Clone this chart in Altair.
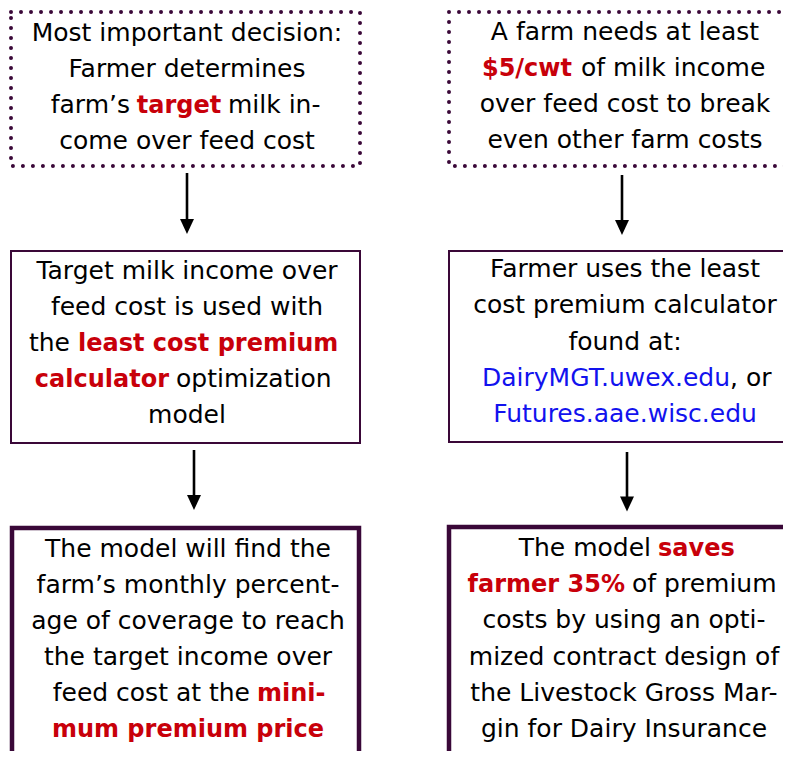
import altair as alt
import pandas as pd

# ---------------- content (text of the six boxes) ----------------
# style codes: "n" = normal black, "r" = bold red, "b" = blue link
BOX_TL = [
    [("Most important decision:", "n")],
    [("Farmer determines", "n")],
    [("farm’s", "n"), ("target", "r"), ("milk in-", "n")],
    [("come over feed cost", "n")],
]
BOX_TR = [
    [("A farm needs at least", "n")],
    [("$5/cwt", "r"), ("of milk income", "n")],
    [("over feed cost to break", "n")],
    [("even other farm costs", "n")],
]
BOX_ML = [
    [("Target milk income over", "n")],
    [("feed cost is used with", "n")],
    [("the", "n"), ("least cost premium", "r")],
    [("calculator", "r"), ("optimization", "n")],
    [("model", "n")],
]
BOX_MR = [
    [("Farmer uses the least", "n")],
    [("cost premium calculator", "n")],
    [("found at:", "n")],
    [("DairyMGT.uwex.edu", "b"), (", or", "n")],
    [("Futures.aae.wisc.edu", "b")],
]
BOX_BL = [
    [("The model will find the", "n")],
    [("farm’s monthly percent-", "n")],
    [("age of coverage to reach", "n")],
    [("the target income over", "n")],
    [("feed cost at the", "n"), ("mini-", "r")],
    [("mum premium price", "r")],
]
BOX_BR = [
    [("The model", "n"), ("saves", "r")],
    [("farmer 35%", "r"), ("of premium", "n")],
    [("costs by using an opti-", "n")],
    [("mized contract design of", "n")],
    [("the Livestock Gross Mar-", "n")],
    [("gin for Dairy Insurance", "n")],
]

# ---------------- layout (page pixel coordinates) ----------------
W, H = 775, 743
X0, Y0 = 8, 8

# box frames: x1, x2, y1, y2, kind
boxes = pd.DataFrame([
    dict(x1=11, x2=360, y1=12, y2=166, kind="dot"),
    dict(x1=449, x2=900, y1=12, y2=166, kind="dot"),
    dict(x1=11, x2=360, y1=251, y2=443, kind="thin"),
    dict(x1=449, x2=900, y1=251, y2=442, kind="thin"),
    dict(x1=12, x2=359, y1=528, y2=900, kind="thick"),
    dict(x1=449, x2=900, y1=527, y2=900, kind="thick"),
])

# arrows: shaft top, shaft bottom, head centre
arrows = pd.DataFrame([
    dict(x=187, ya=173, yb=221, yh=226.5),
    dict(x=622, ya=175, yb=222, yh=227.5),
    dict(x=194, ya=450, yb=497, yh=502.5),
    dict(x=627, ya=452, yb=498, yh=504),
])

# per box: lines, column centre, baselines, per-line anchors (x, align) for mixed lines
LAYOUT = [
    (BOX_TL, 187, [41, 77, 113, 149], {2: [(130, "right"), (179, "center"), (228, "left")]}),
    (BOX_TR, 625, [40, 76, 112, 148], {1: [(572, "right"), (581, "left")]}),
    (BOX_ML, 187, [279, 315, 351, 387, 423], {2: [(70, "right"), (78, "left")],
                                               3: [(169, "right"), (176, "left")]}),
    (BOX_MR, 625, [277, 313, 350, 386, 422], {3: [(730, "right"), (730, "left")]}),
    (BOX_BL, 188, [557, 593, 629, 665, 701, 737], {4: [(250, "right"), (257, "left")]}),
    (BOX_BR, 624, [556, 592, 628, 665, 701, 737], {0: [(651, "right"), (658, "left")],
                                                   1: [(625, "right"), (632, "left")]}),
]

rows = []
for lines, cx, bases, anchors in LAYOUT:
    for i, segs in enumerate(lines):
        if i in anchors:
            for (txt, st), (ax, al) in zip(segs, anchors[i]):
                rows.append(dict(x=ax, y=bases[i], text=txt, style=st, align=al))
        else:
            txt, st = segs[0]
            rows.append(dict(x=cx, y=bases[i], text=txt, style=st, align="center"))
texts = pd.DataFrame(rows)

XS = alt.Scale(domain=[X0, X0 + W])
YS = alt.Scale(domain=[Y0, Y0 + H], reverse=True)

FRAME = "#3a0838"
STYLES = {
    "n": dict(color="black", fontWeight="normal", fontSize=25),
    "r": dict(color="#c8000a", fontWeight="bold", fontSize=24),
    "b": dict(color="#1212ee", fontWeight="normal", fontSize=25),
}
KIND = {
    "dot": dict(strokeWidth=4, strokeDash=[0.001, 10], strokeCap="round"),
    "thin": dict(strokeWidth=2),
    "thick": dict(strokeWidth=4.5),
}

layers = []
for kind, props in KIND.items():
    layers.append(
        alt.Chart(boxes).transform_filter(alt.datum.kind == kind)
        .mark_rect(fill="white", stroke=FRAME, clip=True, **props)
        .encode(x=alt.X("x1:Q", scale=XS, axis=None), x2="x2:Q",
                y=alt.Y("y1:Q", scale=YS, axis=None), y2="y2:Q")
    )

layers.append(
    alt.Chart(arrows).mark_rule(color="black", strokeWidth=2.6)
    .encode(x=alt.X("x:Q", scale=XS, axis=None),
            y=alt.Y("ya:Q", scale=YS, axis=None), y2="yb:Q")
)
layers.append(
    alt.Chart(arrows).mark_point(shape="M-0.93,-1L0.93,-1L0,1Z", filled=True,
                                 color="black", opacity=1, size=225, strokeWidth=0)
    .encode(x=alt.X("x:Q", scale=XS, axis=None),
            y=alt.Y("yh:Q", scale=YS, axis=None))
)

for st, sp in STYLES.items():
    for al in ["left", "center", "right"]:
        sub = texts[(texts["style"] == st) & (texts["align"] == al)]
        if len(sub) == 0:
            continue
        layers.append(
            alt.Chart(texts)
            .transform_filter((alt.datum.style == st) & (alt.datum.align == al))
            .mark_text(align=al, baseline="alphabetic", font="DejaVu Sans", **sp)
            .encode(x=alt.X("x:Q", scale=XS, axis=None),
                    y=alt.Y("y:Q", scale=YS, axis=None),
                    text="text:N")
        )

chart = (
    alt.layer(*layers)
    .properties(width=W, height=H, padding=0,
                autosize=alt.AutoSizeParams(type="none"), background="white")
    .configure_view(stroke=None)
)

chart.save("out.html", embed_options={"renderer": "svg", "actions": False})
